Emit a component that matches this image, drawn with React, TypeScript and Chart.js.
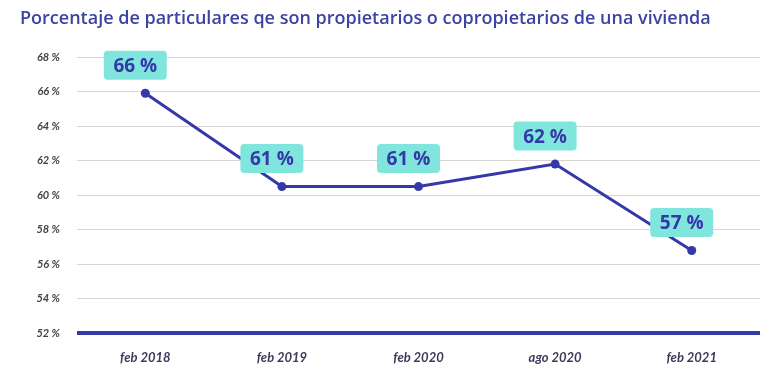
import React, { useEffect, useRef } from "react";
import { Chart, registerables } from "chart.js";

Chart.register(...registerables);

const TITLE = "Porcentaje de particulares qe son propietarios o copropietarios de una vivienda";
const categories = ["feb 2018", "feb 2019", "feb 2020", "ago 2020", "feb 2021"];
const values = [65.9, 60.5, 60.5, 61.8, 56.8];
const labelTexts = ["66 %", "61 %", "61 %", "62 %", "57 %"];

const BLUE = "#3538a8";
const CYAN = "#80e6dd";

const labelPlugin = {
  id: "boxLabels",
  afterDatasetsDraw(chart: any) {
    const { ctx } = chart;
    const meta = chart.getDatasetMeta(0);
    ctx.save();
    ctx.font = "bold 19px 'Open Sans', sans-serif";
    ctx.textAlign = "center";
    ctx.textBaseline = "middle";
    meta.data.forEach((pt: any, i: number) => {
      const text = labelTexts[i];
      const w = 63;
      const h = 29;
      const cx = pt.x - 10;
      const cy = pt.y - 28;
      ctx.fillStyle = CYAN;
      ctx.beginPath();
      (ctx as any).roundRect(cx - w / 2, cy - h / 2, w, h, 4);
      ctx.fill();
      ctx.fillStyle = BLUE;
      ctx.fillText(text, cx, cy + 1);
    });
    ctx.restore();
  },
};

const titlePlugin = {
  id: "leftTitle",
  afterDraw(chart: any) {
    const { ctx } = chart;
    ctx.save();
    ctx.font = "600 18px 'Open Sans', sans-serif";
    ctx.fillStyle = "#3b43a3";
    ctx.textAlign = "left";
    ctx.textBaseline = "middle";
    ctx.fillText(TITLE, 20, 19);
    ctx.restore();
  },
};

export default function App() {
  const ref = useRef<HTMLCanvasElement>(null);
  useEffect(() => {
    if (!ref.current) return;
    const chart = new Chart(ref.current, {
      type: "line",
      data: {
        labels: categories,
        datasets: [
          {
            data: values,
            borderColor: BLUE,
            backgroundColor: BLUE,
            borderWidth: 3,
            pointRadius: 4.5,
            pointBackgroundColor: BLUE,
            pointBorderWidth: 0,
            tension: 0,
          },
        ],
      },
      options: {
        animation: false,
        responsive: true,
        maintainAspectRatio: false,
        layout: { padding: { left: 0, right: 8, top: 57, bottom: 8 } },
        plugins: {
          legend: { display: false },
          tooltip: { enabled: false },
          title: { display: false },
        },
        scales: {
          x: {
            offset: true,
            grid: { display: false },
            border: { display: false },
            ticks: {
              color: "#3a3a5c",
              font: { family: "Lato, sans-serif", size: 13, style: "italic", weight: "bold" },
              padding: 9,
            },
          },
          y: {
            min: 52,
            max: 68,
            afterFit: (s: any) => {
              s.width = 77;
            },
            border: { display: false },
            grid: {
              color: (c: any) => (c.tick && c.tick.value === 52 ? BLUE : "#d6d6d6"),
              lineWidth: (c: any) => (c.tick && c.tick.value === 52 ? 4 : 1),
              drawTicks: false,
            },
            ticks: {
              stepSize: 2,
              color: "#444444",
              padding: 17,
              font: { family: "Lato, sans-serif", size: 11, style: "italic", weight: "bold" },
              callback: (v: any) => v + " %",
            },
          },
        },
      },
      plugins: [labelPlugin, titlePlugin],
    });
    return () => chart.destroy();
  }, []);
  return (
    <div style={{ position: "fixed", left: 0, top: 0, width: 768, height: 383, background: "#fff" }}>
      <canvas ref={ref} />
    </div>
  );
}
